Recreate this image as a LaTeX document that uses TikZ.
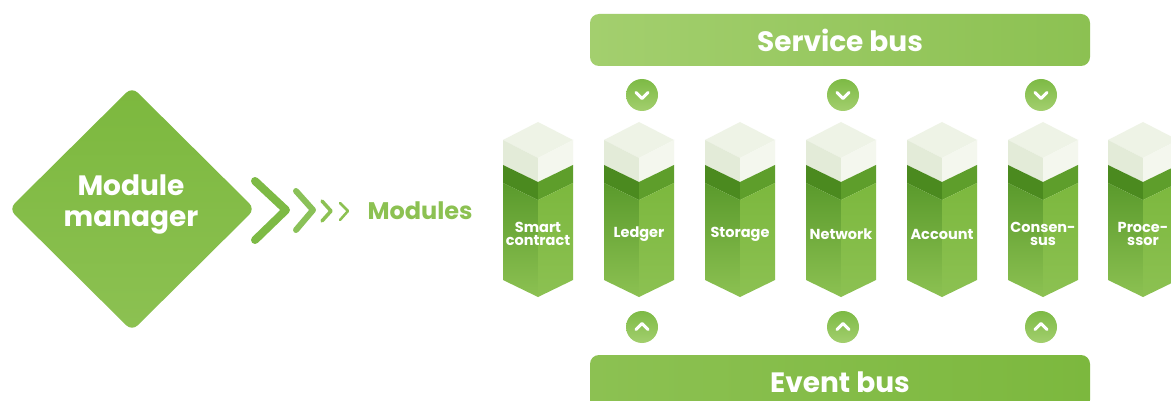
\documentclass[tikz,border=0pt]{standalone}
\usepackage{fontspec}
\setmainfont{Poppins}
\usetikzlibrary{shapes.geometric}
\definecolor{gMain}{HTML}{7DBA45}
\definecolor{gLight}{HTML}{8CC152}
\definecolor{gPale}{HTML}{A3CF6E}
\definecolor{gDark}{HTML}{4B8A1F}
\definecolor{gDarkR}{HTML}{5E9E2B}
\definecolor{wTop}{HTML}{EEF3E6}
\definecolor{wLeft}{HTML}{E3EBD8}
\definecolor{wRight}{HTML}{F4F7EE}
\definecolor{gBodyL}{HTML}{5A9A2C}
\definecolor{gBodyR}{HTML}{7CB83E}
\tikzset{
  bustext/.style={text=white,font=\bfseries\fontsize{28}{30}\selectfont},
  pillartext/.style={text=white,align=center,font=\bfseries\fontsize{14.5}{13}\selectfont},
  circbadge/.style={circle,minimum size=32pt,inner sep=0pt,top color=gMain,bottom color=gPale},
  chev/.style={white,line width=3pt,line cap=round,line join=round},
  arrowchev/.style={line cap=round,line join=round}
}
\newcommand{\mypillar}[3]{%
  \fill[wTop] (#1,122) -- (#1+35,140) -- (#1,158) -- (#1-35,140) -- cycle;
  \fill[wLeft] (#1-35,140) -- (#1,158) -- (#1,182) -- (#1-35,165) -- cycle;
  \fill[wRight] (#1,158) -- (#1+35,140) -- (#1+35,165) -- (#1,182) -- cycle;
  \fill[gDark] (#1-35,165) -- (#1,182) -- (#1,200) -- (#1-35,183) -- cycle;
  \fill[gDarkR] (#1,182) -- (#1+35,165) -- (#1+35,183) -- (#1,200) -- cycle;
  \path[top color=gBodyL,bottom color=gLight] (#1-35,183) -- (#1,200) -- (#1,297) -- (#1-35,280) -- cycle;
  \path[top color=gBodyR,bottom color=gLight] (#1,200) -- (#1+35,183) -- (#1+35,280) -- (#1,297) -- cycle;
  \node[pillartext] (#2) at (#1,234) {#3};
}
\begin{document}
\begin{tikzpicture}[x=1pt,y=-1pt]
\useasboundingbox (0,0) rectangle (1171,401);
\clip (0,0) rectangle (1171,401);
\fill[white] (0,0) rectangle (1171,401);
% diamond
\path[rounded corners=8pt,top color=gBodyR,bottom color=gLight] (132,87) -- (255,209) -- (132,331) -- (9,209) -- cycle;
\node[text=white,align=center,font=\bfseries\fontsize{28}{31}\selectfont] (mm) at (131,204) {Module\\manager};
% chevrons
\draw[arrowchev,gMain,line width=8pt] (255,181) -- (286,210) -- (255,240);
\draw[arrowchev,gMain!90!white,line width=6pt] (296,191) -- (313,210) -- (296,230);
\draw[arrowchev,gLight,line width=3.5pt] (322,201) -- (331,211) -- (322,221);
\draw[arrowchev,gLight,line width=2.5pt] (340,203) -- (348,211) -- (340,220);
\node[anchor=west,text=gLight,font=\bfseries\fontsize{24}{26}\selectfont] (mods) at (364,211) {Modules};
% buses
\node[rounded corners=9pt,minimum width=500pt,minimum height=52pt,left color=gPale,right color=gLight,bustext] (sbus) at (840,40) {Service bus};
\node[rounded corners=9pt,minimum width=500pt,minimum height=54pt,left color=gLight,right color=gBodyR,bustext] (ebus) at (840,382) {Event bus};
% pillars
\mypillar{538}{p1}{Smart\\contract}
\mypillar{639}{p2}{Ledger}
\mypillar{740}{p3}{Storage}
\mypillar{841}{p4}{Network}
\mypillar{942}{p5}{Account}
\mypillar{1043}{p6}{Consen-\\sus}
\mypillar{1143}{p7}{Proce-\\ssor}
% badges
\foreach \cx/\n in {642/d1,843/d2,1041/d3}{
  \node[circbadge] (\n) at (\cx,95) {};
  \draw[chev] ([xshift=-6pt,yshift=2.5pt]\n.center) -- ([yshift=-3.5pt]\n.center) -- ([xshift=6pt,yshift=2.5pt]\n.center);
}
\foreach \cx/\n in {642/u1,843/u2,1041/u3}{
  \node[circbadge] (\n) at (\cx,327) {};
  \draw[chev] ([xshift=-6pt,yshift=-2.5pt]\n.center) -- ([yshift=3.5pt]\n.center) -- ([xshift=6pt,yshift=-2.5pt]\n.center);
}
\end{tikzpicture}
\end{document}
